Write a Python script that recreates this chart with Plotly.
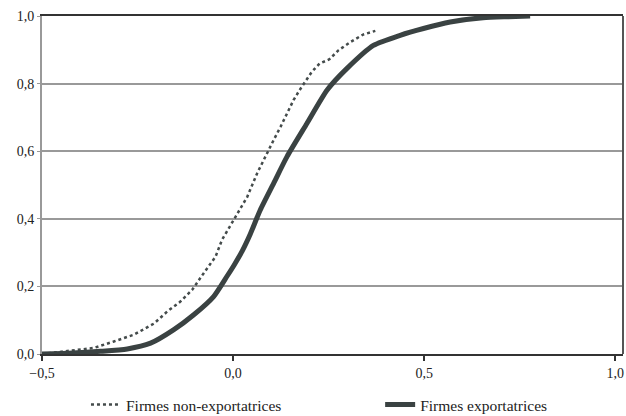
import plotly.graph_objects as go

nonexp_x = [-0.50, -0.434, -0.364, -0.312, -0.260, -0.207, -0.172, -0.138, -0.107, -0.077,
            -0.046, -0.029, 0.002, 0.037, 0.063, 0.080, 0.089, 0.106, 0.124, 0.141,
            0.158, 0.174, 0.189, 0.206, 0.226, 0.252, 0.276, 0.307, 0.340, 0.372]
nonexp_y = [0.000, 0.008, 0.018, 0.037, 0.057, 0.090, 0.126, 0.155, 0.190, 0.239,
            0.288, 0.338, 0.397, 0.465, 0.535, 0.574, 0.598, 0.633, 0.672, 0.712,
            0.751, 0.781, 0.805, 0.835, 0.859, 0.872, 0.899, 0.923, 0.945, 0.956]

# Exporting firms
exp_x = [-0.50, -0.420, -0.347, -0.277, -0.216, -0.155, -0.103, -0.051, -0.016, 0.002,
         0.024, 0.045, 0.071, 0.106, 0.141, 0.193, 0.246, 0.298, 0.367, 0.437,
         0.498, 0.568, 0.654, 0.720, 0.777]
exp_y = [0.000, 0.003, 0.008, 0.015, 0.032, 0.072, 0.116, 0.170, 0.230, 0.262,
         0.305, 0.355, 0.426, 0.505, 0.584, 0.682, 0.781, 0.845, 0.913, 0.943,
         0.963, 0.982, 0.995, 0.998, 1.000]

x_ticks = [-0.5, 0.0, 0.5, 1.0]
y_ticks = [0.0, 0.2, 0.4, 0.6, 0.8, 1.0]

dark = "#3a4242"
tick_font = dict(family="Liberation Serif", size=14, color="#222")
leg_font = dict(family="Liberation Serif", size=15.5, color="#222")

fig = go.Figure()
fig.add_trace(go.Scatter(x=nonexp_x, y=nonexp_y, mode="lines", name="Firmes non-exportatrices",
                         legend="legend",
                         line=dict(color="#444b4b", width=2.5, dash="3px,3px")))
fig.add_trace(go.Scatter(x=exp_x, y=exp_y, mode="lines", name="Firmes exportatrices",
                         legend="legend2",
                         line=dict(color=dark, width=5, shape="spline", smoothing=0.6)))

fig.update_layout(
    width=626, height=416,
    margin=dict(l=42, r=3, t=16, b=62, autoexpand=False),
    paper_bgcolor="white", plot_bgcolor="white",
    separators=", ",
    font=tick_font,
    showlegend=True,
    legend=dict(x=0.0757, xanchor="left", y=-0.151, yanchor="middle",
                font=leg_font, itemwidth=30, bgcolor="rgba(0,0,0,0)"),
    legend2=dict(x=0.582, xanchor="left", y=-0.151, yanchor="middle",
                 font=leg_font, itemwidth=30, bgcolor="rgba(0,0,0,0)"),
    xaxis=dict(range=[-0.5, 1.02], tickvals=x_ticks, tickformat=".1f", automargin=False,
               showgrid=False, zeroline=False, showline=True, linecolor="#333",
               linewidth=2, mirror=True, ticks="outside", ticklen=5, tickwidth=2,
               tickcolor="#333", tickfont=tick_font),
    yaxis=dict(range=[0, 1.0], tickvals=y_ticks, tickformat=".1f", automargin=False,
               showgrid=True, gridcolor="#999", gridwidth=1.5, zeroline=False,
               showline=True, linecolor="#999", linewidth=2, ticks="outside",
               ticklen=3, tickcolor="#999", tickfont=tick_font),
)
fig.add_shape(type="line", xref="paper", yref="paper", x0=1, x1=1, y0=0, y1=1,
              line=dict(color="#555", width=2))
fig.write_html("out.html", config={"displayModeBar": False},
               post_script="document.body.style.margin='0';")
